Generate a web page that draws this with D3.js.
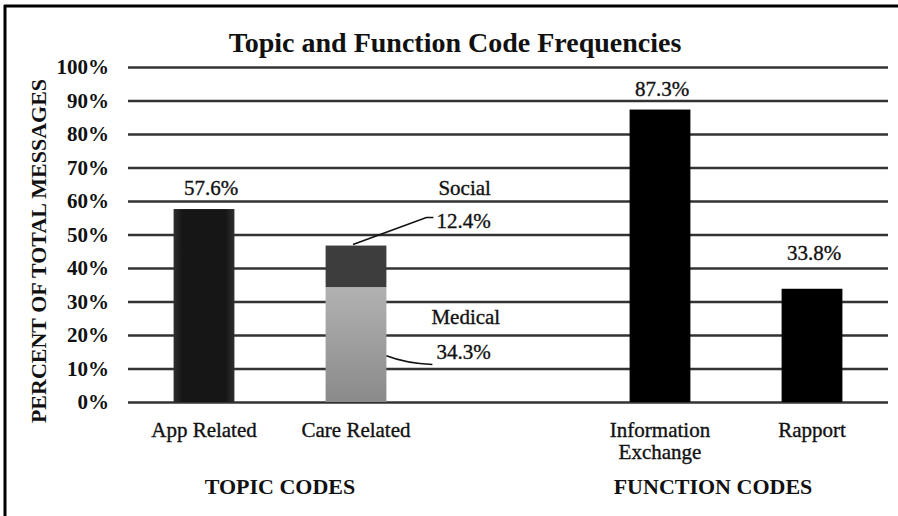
<!DOCTYPE html>
<html>
<head>
<meta charset="utf-8">
<script src="https://cdn.jsdelivr.net/npm/d3@7"></script>
<style>
  body { margin: 0; background: #fff; }
</style>
</head>
<body>
<svg id="chart" width="898" height="516"></svg>
<script>
const categories = ['App Related', 'Care Related', 'gap', 'Information Exchange', 'Rapport'];
const tickLabels = [['App Related'], ['Care Related'], [], ['Information', 'Exchange'], ['Rapport']];
const baseValues = [57.6, 34.3, 0, 87.3, 33.8];   // medical part for Care Related
const socialValues = [0, 12.4, 0, 0, 0];
const yTicks = [0, 10, 20, 30, 40, 50, 60, 70, 80, 90, 100];
const groupNames = ['TOPIC CODES', 'FUNCTION CODES'];

const FONT = "'Liberation Serif', 'Times New Roman', serif";
const svg = d3.select('#chart');
const width = 898, height = 516;

const x = d3.scaleBand()
  .domain(categories)
  .range([128, 888])
  .paddingInner(0.6)
  .paddingOuter(0.3);

const y = d3.scaleLinear()
  .domain([0, 100])
  .range([402, 67]);

// scanned original has heavy type, so regular text gets a hairline stroke
function label(sel, size, bold) {
  sel.style('font-family', FONT)
    .style('font-size', size + 'px')
    .style('font-weight', bold ? 'bold' : 'normal')
    .attr('fill', '#111');
  if (!bold) sel.attr('stroke', '#111').attr('stroke-width', 0.35);
  return sel;
}

// gradients
const defs = svg.append('defs');
const gApp = defs.append('linearGradient').attr('id', 'gApp');
gApp.append('stop').attr('offset', '0%').attr('stop-color', '#2e2e2e');
gApp.append('stop').attr('offset', '15%').attr('stop-color', '#161616');
gApp.append('stop').attr('offset', '85%').attr('stop-color', '#161616');
gApp.append('stop').attr('offset', '100%').attr('stop-color', '#2e2e2e');
const gMed = defs.append('linearGradient').attr('id', 'gMed')
  .attr('x1', 0).attr('x2', 0).attr('y1', 0).attr('y2', 1);
gMed.append('stop').attr('offset', '0%').attr('stop-color', '#b2b2b2');
gMed.append('stop').attr('offset', '100%').attr('stop-color', '#8a8a8a');

const baseFill = ['url(#gApp)', 'url(#gMed)', 'none', '#000', '#000'];

// frame (only top and left edges show)
svg.append('line').attr('x1', 5).attr('x2', 5).attr('y1', 5).attr('y2', height)
  .attr('stroke', '#000').attr('stroke-width', 3);
svg.append('line').attr('x1', 4).attr('x2', width).attr('y1', 6).attr('y2', 6)
  .attr('stroke', '#000').attr('stroke-width', 3);

// title
svg.append('text')
  .attr('x', 455).attr('y', 52)
  .attr('text-anchor', 'middle')
  .call(label, 28, true)
  .text('Topic and Function Code Frequencies');

// gridlines + y labels
const yAxis = d3.axisLeft(y)
  .tickValues(yTicks)
  .tickSize(-(888 - 128))
  .tickPadding(19)
  .tickFormat(d => d + '%');

svg.append('g')
  .attr('transform', 'translate(128,0)')
  .call(yAxis)
  .call(g => g.select('.domain').remove())
  .call(g => g.selectAll('.tick line').attr('stroke', '#333').attr('stroke-width', 2.4))
  .call(g => g.selectAll('.tick text').call(label, 21, true));

svg.append('text')
  .attr('transform', 'translate(46,251) rotate(-90)')
  .attr('text-anchor', 'middle')
  .call(label, 22, true)
  .text('PERCENT OF TOTAL MESSAGES');

// bars
const rows = categories.map((c, i) => ({ c, base: baseValues[i], social: socialValues[i], fill: baseFill[i] }))
  .filter(d => d.base > 0);

svg.append('g').selectAll('rect.base')
  .data(rows).join('rect')
  .attr('class', 'base')
  .attr('x', d => x(d.c))
  .attr('width', x.bandwidth())
  .attr('y', d => y(d.base))
  .attr('height', d => y(0) - y(d.base))
  .attr('fill', d => d.fill);

svg.append('g').selectAll('rect.social')
  .data(rows.filter(d => d.social > 0)).join('rect')
  .attr('class', 'social')
  .attr('x', d => x(d.c))
  .attr('width', x.bandwidth())
  .attr('y', d => y(d.base + d.social))
  .attr('height', d => y(d.base) - y(d.base + d.social))
  .attr('fill', '#3d3d3d');

// value labels on single bars
svg.append('g').selectAll('text')
  .data(rows.filter(d => d.social === 0)).join('text')
  .attr('x', d => x(d.c) + x.bandwidth() / 2 + (d.c === 'App Related' ? 7 : 2))
  .attr('y', d => y(d.base) - (d.c === 'Rapport' ? 29 : 14))
  .attr('text-anchor', 'middle')
  .call(label, 21, false)
  .text(d => d.base + '%');

// stacked bar annotations
const care = rows.find(d => d.social > 0);
const cx0 = x(care.c), cw = x.bandwidth();
const stackTop = care.base + care.social;

svg.append('path')
  .attr('d', `M${cx0 + cw / 2 - 3},${y(stackTop) - 1} L${cx0 + cw + 40},${y(stackTop) - 28} L${cx0 + cw + 47},${y(stackTop) - 28}`)
  .attr('fill', 'none').attr('stroke', '#111').attr('stroke-width', 1.6);
svg.append('text').attr('x', cx0 + cw + 52).attr('y', y(stackTop) - 51)
  .call(label, 21, false).text('Social');
svg.append('text').attr('x', cx0 + cw + 50).attr('y', y(stackTop) - 18)
  .call(label, 21, false).text(care.social + '%');

svg.append('path')
  .attr('d', `M${cx0 + cw},${y(13.8)} Q${cx0 + cw + 20},${y(11.5)} ${cx0 + cw + 46},${y(11.2)}`)
  .attr('fill', 'none').attr('stroke', '#111').attr('stroke-width', 1.6);
svg.append('text').attr('x', cx0 + cw + 45).attr('y', y(23.4))
  .call(label, 21, false).text('Medical');
svg.append('text').attr('x', cx0 + cw + 50).attr('y', y(12.7))
  .call(label, 21, false).text(care.base + '%');

// category labels
const catG = svg.append('g').selectAll('text')
  .data(categories.map((c, i) => ({ c, lines: tickLabels[i] }))).join('text')
  .attr('x', d => x(d.c) + x.bandwidth() / 2)
  .attr('y', 437)
  .attr('text-anchor', 'middle')
  .call(label, 21, false);
catG.selectAll('tspan')
  .data(d => d.lines.map((l, k) => ({ l, k, cx: x(d.c) + x.bandwidth() / 2 })))
  .join('tspan')
  .attr('x', d => d.cx)
  .attr('dy', d => d.k === 0 ? 0 : 22)
  .text(d => d.l);

// group labels
const groupX = [280, 713];
svg.append('g').selectAll('text')
  .data(groupNames).join('text')
  .attr('x', (d, i) => groupX[i])
  .attr('y', 494)
  .attr('text-anchor', 'middle')
  .call(label, 22, true)
  .text(d => d);
</script>
</body>
</html>
